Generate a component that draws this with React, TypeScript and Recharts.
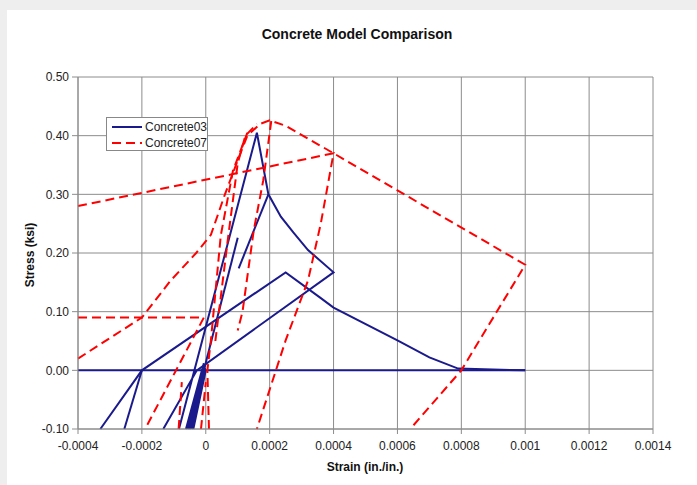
import { LineChart, Line, XAxis, YAxis, CartesianGrid } from 'recharts';

type Pt = [number, number]; // [strain, stress]

const X_TICKS = [-0.0004, -0.0002, 0, 0.0002, 0.0004, 0.0006, 0.0008, 0.001, 0.0012, 0.0014];
const X_TICK_LABELS = ['-0.0004', '-0.0002', '0', '0.0002', '0.0004', '0.0006', '0.0008', '0.001', '0.0012', '0.0014'];
const Y_TICKS = [-0.1, 0, 0.1, 0.2, 0.3, 0.4, 0.5];

// Concrete03 (solid navy)
const c03Baseline: Pt[] = [[-0.0004, 0], [0.001, 0]];
const c03Envelope: Pt[] = [
  [-0.000084, -0.1], [0.00016, 0.405], [0.000196, 0.3], [0.000235, 0.262], [0.000274, 0.235],
  [0.00032, 0.205], [0.0004, 0.167], [-0.000028, 0.0], [-0.000133, -0.1],
];
const c03Unload: Pt[] = [[0.000196, 0.3], [0.000103, 0.174]];
const c03Reload: Pt[] = [[0.0001, 0.226], [-0.000053, -0.1]];
const c03Cracked: Pt[] = [
  [-0.00033, -0.1], [-0.0002, 0], [0.00025, 0.167], [0.000358, 0.124], [0.0004, 0.107],
  [0.0006, 0.051], [0.0007, 0.022], [0.00079, 0.003], [0.001, 0],
];
const c03Branch: Pt[] = [[-0.000255, -0.1], [-0.0002, 0]];
const c03Cycles: Pt[] = [
  [-0.000062, -0.1], [-0.000006, 0.012], [-0.000056, -0.1], [-0.000004, 0.008],
  [-0.00005, -0.1], [-0.000002, 0.004], [-0.000044, -0.1], [0.0, 0.0], [-0.000039, -0.1],
];

// Concrete07 (dashed red)
const c07Envelope: Pt[] = [
  [-0.0004, 0.02], [-0.0003, 0.055], [-0.0002, 0.09], [-0.00011, 0.153], [-0.00003, 0.2],
  [0.000016, 0.231], [0.00006, 0.3], [0.0001, 0.358], [0.00013, 0.4], [0.00017, 0.42],
  [0.0002, 0.426], [0.00025, 0.417], [0.0004, 0.37], [0.001, 0.18], [0.0008, 0], [0.00064, -0.1],
];
const c07Reload: Pt[] = [
  [-0.0004, 0.28], [0.0004, 0.37], [0.00036, 0.25], [0.00032, 0.153], [0.00025, 0.051], [0.00016, -0.1],
];
const c07Plateau: Pt[] = [[-0.0004, 0.09], [-0.000006, 0.09], [-0.00019, -0.1]];
const c07Unload: Pt[] = [[0.000205, 0.425], [0.00018, 0.324], [0.00015, 0.238], [0.000115, 0.1], [0.0001, 0.068]];
const c07InnerA: Pt[] = [
  [0.00001, -0.1], [0.000005, 0], [0.000016, 0.051], [0.000047, 0.23], [0.000085, 0.34], [0.00013, 0.405],
];
const c07InnerB: Pt[] = [[0.00003, 0.05], [0.00007, 0.227], [0.0001, 0.353], [0.000124, 0.4], [0.00016, 0.42]];
const c07StubA: Pt[] = [[-0.000085, -0.1], [-0.000075, -0.02]];
const c07StubB: Pt[] = [[-0.000015, -0.1], [0, -0.02]];

const BLUE = '#1a1a8c';
const RED = '#ff0000';

const c03Segments = [c03Baseline, c03Envelope, c03Unload, c03Reload, c03Cracked, c03Branch, c03Cycles];
const c07Segments = [c07Envelope, c07Reload, c07Plateau, c07Unload, c07InnerA, c07InnerB, c07StubA, c07StubB];

const toPoints = (seg: Pt[]) => seg.map(([x, y]) => ({ x, y }));

const font = '"Liberation Sans", Arial, sans-serif';

export default function App() {
  return (
    <>
      <style>{`body{margin:0;background:#eeeeee;}`}</style>
      <div style={{ position: 'relative', marginLeft: 7, marginTop: 10, width: 690, height: 475, background: '#fff', fontFamily: font }}>
        <div style={{ position: 'absolute', left: 0, top: 16, width: 700, textAlign: 'center', fontSize: 14, fontWeight: 'bold', color: '#111' }}>
          Concrete Model Comparison
        </div>
        <LineChart width={690} height={475} margin={{ top: 67, right: 44, left: 0, bottom: 26 }} style={{ fontFamily: font }}>
          <CartesianGrid stroke="#8c8c8c" strokeWidth={1} />
          <XAxis
            dataKey="x"
            type="number"
            domain={[-0.0004, 0.0014]}
            ticks={X_TICKS}
            interval={0}
            tickFormatter={(_v, i) => X_TICK_LABELS[i]}
            height={30}
            tickSize={5}
            tickMargin={7}
            stroke="#8c8c8c"
            tick={{ fontSize: 12, fill: '#222' }}
          />
          <YAxis
            type="number"
            domain={[-0.1, 0.5]}
            ticks={Y_TICKS}
            interval={0}
            tickFormatter={(v) => Number(v).toFixed(2)}
            width={71}
            tickSize={6}
            tickMargin={3}
            stroke="#8c8c8c"
            tick={{ fontSize: 12, fill: '#222' }}
          />
          {c03Segments.map((seg, i) => (
            <Line key={`c03-${i}`} data={toPoints(seg)} dataKey="y" type="linear" stroke={BLUE} strokeWidth={2}
              dot={false} activeDot={false} isAnimationActive={false} />
          ))}
          {c07Segments.map((seg, i) => (
            <Line key={`c07-${i}`} data={toPoints(seg)} dataKey="y" type="linear" stroke={RED} strokeWidth={2}
              strokeDasharray="9 5" dot={false} activeDot={false} isAnimationActive={false} />
          ))}
        </LineChart>
        <div style={{ position: 'absolute', left: 23, top: 245, transform: 'translate(-50%, -50%) rotate(-90deg)', whiteSpace: 'nowrap', fontSize: 12, fontWeight: 'bold', color: '#111' }}>
          Stress (ksi)
        </div>
        <div style={{ position: 'absolute', left: 358, top: 457, transform: 'translate(-50%, -50%)', whiteSpace: 'nowrap', fontSize: 12, fontWeight: 'bold', color: '#111' }}>
          Strain (in./in.)
        </div>
        <div style={{ position: 'absolute', left: 99, top: 107, width: 100, height: 32, border: '1px solid #888', background: '#fff', fontSize: 12, color: '#222' }}>
          {[{ name: 'Concrete03', color: BLUE, dash: undefined }, { name: 'Concrete07', color: RED, dash: '9 5' }].map((item, i) => (
            <div key={item.name} style={{ position: 'absolute', left: 5, top: 2 + i * 16, height: 14, display: 'flex', alignItems: 'center' }}>
              <svg width={30} height={6} style={{ marginRight: 3 }}>
                <line x1={0} y1={3} x2={30} y2={3} stroke={item.color} strokeWidth={2} strokeDasharray={item.dash} />
              </svg>
              <span>{item.name}</span>
            </div>
          ))}
        </div>
      </div>
    </>
  );
}
